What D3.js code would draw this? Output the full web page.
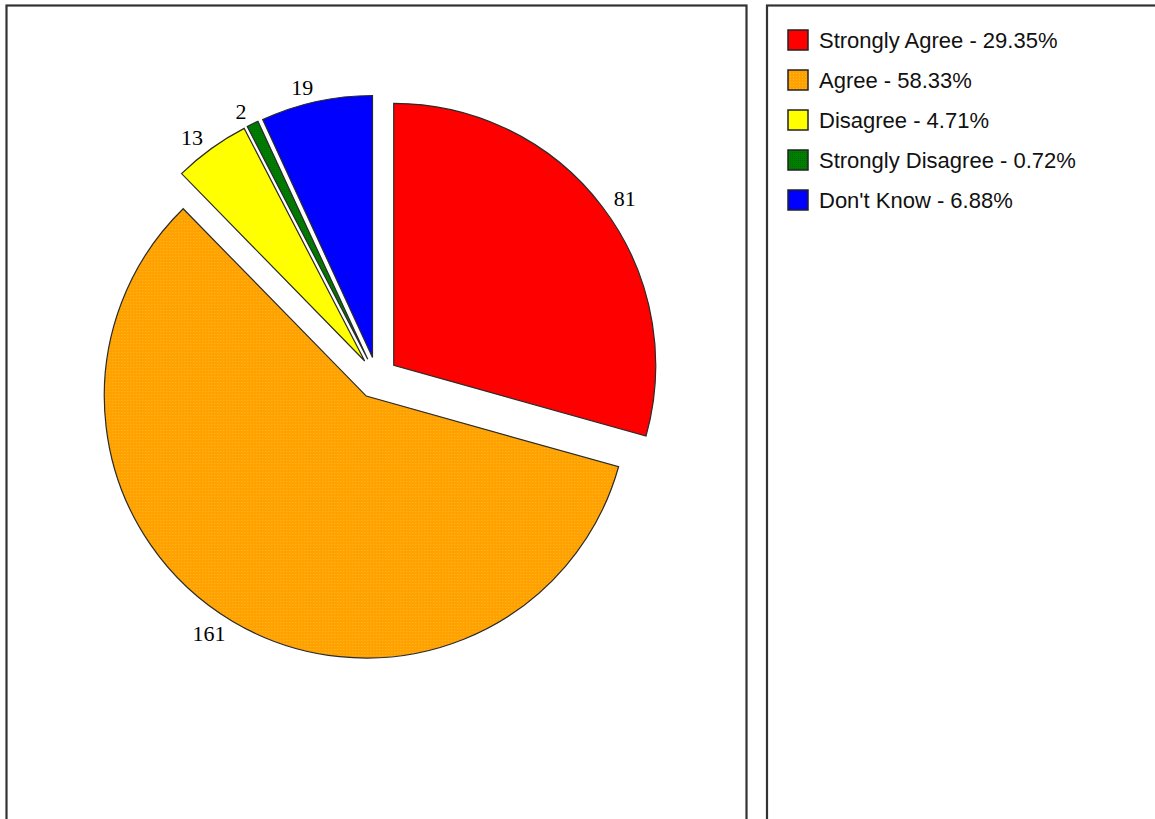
<!DOCTYPE html>
<html><head><meta charset="utf-8">
<script src="https://cdn.jsdelivr.net/npm/d3@7"></script>
<style>body{margin:0;background:#fff;overflow:hidden}</style>
</head><body><svg id="chart" width="1155" height="819"></svg>
<script>
const categories = ["Strongly Agree", "Agree", "Disagree", "Strongly Disagree", "Don't Know"];
const values = [81, 161, 13, 2, 19];
const colors = ["#FF0000", "#FFA500", "#FFFF00", "#008000", "#0000FF"];

const svg = d3.select("#chart");
const cx = 377, cy = 378, R = 262, explode = 21, labelGap = 35;

const defs = svg.append("defs");
const pat = defs.append("pattern").attr("id", "dotOrange").attr("patternUnits", "userSpaceOnUse")
  .attr("width", 3).attr("height", 3);
pat.append("rect").attr("width", 3).attr("height", 3).attr("fill", "#FFA200");
pat.append("rect").attr("x", 1).attr("y", 1).attr("width", 1).attr("height", 1).attr("fill", "#FFB82E");
const pat2 = defs.append("pattern").attr("id", "dotGreen").attr("patternUnits", "userSpaceOnUse")
  .attr("width", 2).attr("height", 2);
pat2.append("rect").attr("width", 2).attr("height", 2).attr("fill", "#008000");
pat2.append("rect").attr("width", 1).attr("height", 1).attr("fill", "#006800");
const fills = colors.map((c, i) => i === 1 ? "url(#dotOrange)" : (i === 3 ? "url(#dotGreen)" : c));

// panels
svg.append("rect").attr("x", 6.5).attr("y", 5.5).attr("width", 740).attr("height", 900)
  .attr("fill", "none").attr("stroke", "#333").attr("stroke-width", 2.2);
svg.append("rect").attr("x", 767).attr("y", 5.5).attr("width", 500).attr("height", 900)
  .attr("fill", "none").attr("stroke", "#333").attr("stroke-width", 2.2);

const total = d3.sum(values);
const pie = d3.pie().sort(null).startAngle(0).endAngle(2 * Math.PI);
const arcs = pie(values);
const arc = d3.arc().innerRadius(0).outerRadius(R);

const g = svg.append("g").attr("transform", `translate(${cx},${cy})`);
arcs.forEach((a, i) => {
  const mid = (a.startAngle + a.endAngle) / 2;
  const dx = Math.sin(mid) * explode, dy = -Math.cos(mid) * explode;
  g.append("path").attr("d", arc(a)).attr("transform", `translate(${dx},${dy})`)
    .attr("fill", fills[i]).attr("stroke", "#2a2a2a").attr("stroke-width", 1.2)
    .attr("stroke-linejoin", "miter");
  const lr = R + labelGap;
  g.append("text").attr("x", Math.sin(mid) * lr).attr("y", -Math.cos(mid) * lr)
    .attr("text-anchor", Math.sin(mid) < 0 ? "end" : "start").attr("dominant-baseline", "central")
    .attr("font-family", "Liberation Serif, Times New Roman, serif").attr("font-size", 22)
    .attr("fill", "#000").text(values[i]);
});

// legend
const leg = svg.append("g");
categories.forEach((c, i) => {
  const y = 40 + i * 40;
  leg.append("rect").attr("x", 788).attr("y", y - 10).attr("width", 20).attr("height", 20)
    .attr("fill", fills[i]).attr("stroke", "#222").attr("stroke-width", 1.5);
  leg.append("text").attr("x", 819).attr("y", y).attr("dominant-baseline", "central")
    .attr("font-family", "Liberation Sans, Arial, sans-serif").attr("font-size", 22)
    .attr("fill", "#111")
    .text(`${c} - ${(values[i] / total * 100).toFixed(2)}%`);
});
</script></body></html>
